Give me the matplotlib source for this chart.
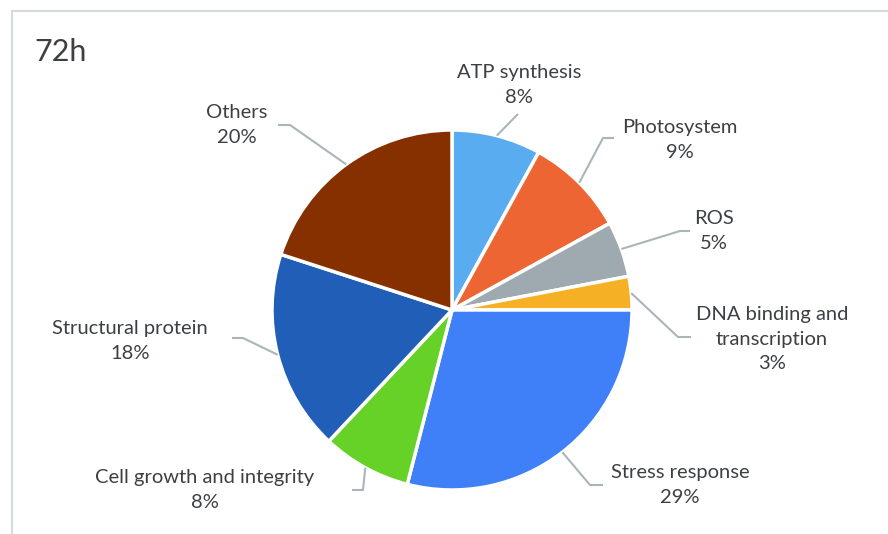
import numpy as np
import matplotlib.pyplot as plt
from matplotlib.patches import Rectangle

categories = ["ATP synthesis", "Photosystem", "ROS", "DNA binding and\ntranscription",
              "Stress response", "Cell growth and integrity", "Structural protein", "Others"]
shares = [8, 9, 5, 3, 29, 8, 18, 20]
colors = ["#5aacf0", "#ed6533", "#9eaab0", "#f5b025",
          "#3f7ff7", "#66d126", "#215eb7", "#863000"]

# label centres and leader elbows, in pixel coords (origin top-left)
label_pos = [(519, 85), (680, 140), (714, 231), (772, 339),
             (680, 485), (205, 490), (130, 341), (237, 125)]
elbows = [[(518, 114)], [(603, 138), (614, 138)], [(680, 231), (690, 231)],
          [(678, 337), (691, 337)], [(590, 485), (603, 485)],
          [(363, 490), (352, 490)], [(243, 338), (232, 338)],
          [(290, 125), (278, 125)]]

W, H = 888, 534
cx, cy, r = 452, 310, 180
text_color = "#3c4043"
line_color = "#a9b6b9"

plt.rcParams["font.family"] = ["Lato", "DejaVu Sans"]
fig = plt.figure(figsize=(W / 100, H / 100), dpi=100)
ax = fig.add_axes([0, 0, 1, 1])
ax.set_xlim(0, W)
ax.set_ylim(0, H)
ax.set_aspect("equal")
ax.axis("off")

# chart frame
fig.patches.append(Rectangle((12 / W, -0.1), 2, (H - 11) / H + 0.1,
                             transform=fig.transFigure, fill=False,
                             edgecolor="#d3dadd", linewidth=1.5))

wedges, _ = ax.pie(shares, colors=colors, startangle=90, counterclock=False,
                   center=(cx, H - cy), radius=r,
                   wedgeprops=dict(edgecolor="white", linewidth=2.5))
ax.set_xlim(0, W)
ax.set_ylim(0, H)

total = sum(shares)
cum = np.cumsum([0] + shares)
for i, name in enumerate(categories):
    mid = (cum[i] + shares[i] / 2) / total * 2 * np.pi
    sx, sy = cx + r * np.sin(mid), cy - r * np.cos(mid)
    pts = [(sx, sy)] + elbows[i]
    ax.plot([p[0] for p in pts], [H - p[1] for p in pts],
            color=line_color, lw=1.5, solid_capstyle="butt")
    lx, ly = label_pos[i]
    ax.text(lx, H - ly, f"{name}\n{shares[i]}%", ha="center", va="center",
            fontsize=14.5, color=text_color, linespacing=1.55)

ax.text(34, H - 52, "72h", fontsize=22, color=text_color, ha="left", va="center")

fig.savefig("out.png", dpi=100)
